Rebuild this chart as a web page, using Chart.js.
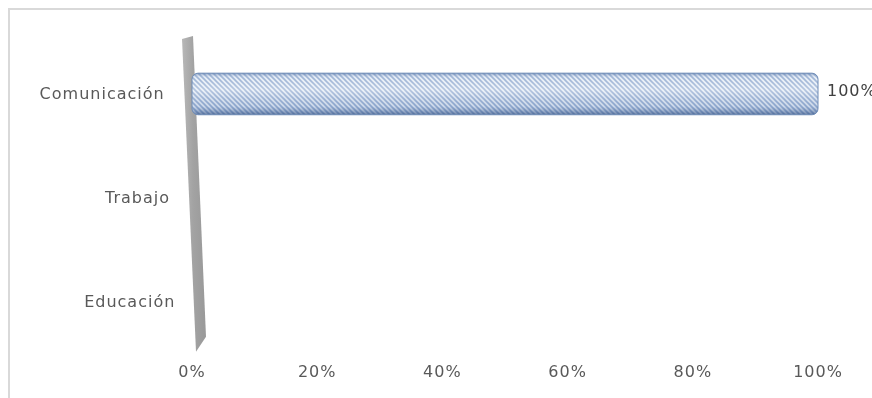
<!DOCTYPE html>
<html>
<head>
<meta charset="utf-8">
<script src="https://cdn.jsdelivr.net/npm/chart.js@4"></script>
<style>
  html, body { margin: 0; padding: 0; background: #fff; }
  #wrap { width: 872px; height: 398px; position: relative; }
</style>
</head>
<body>
<div id="wrap"><canvas id="usoChart"></canvas></div>
<script>
const categories = ['Comunicación', 'Trabajo', 'Educación'];
const values = [100, 0, 0];
const tickValues = [0, 20, 40, 60, 80, 100];

const textColor = '#595959';
const labelFont = '16px "DejaVu Sans"';

// diagonal hatch used as the bar fill
function makeHatch() {
    const tile = document.createElement('canvas');
    tile.width = 5;
    tile.height = 5;
    const t = tile.getContext('2d');
    t.fillStyle = '#e6edf6';
    t.fillRect(0, 0, 5, 5);
    t.strokeStyle = '#94add2';
    t.lineWidth = 1.6;
    t.beginPath();
    t.moveTo(-1, -1); t.lineTo(6, 6);
    t.moveTo(-1, 4); t.lineTo(1, 6);
    t.moveTo(4, -1); t.lineTo(6, 1);
    t.stroke();
    return t.createPattern(tile, 'repeat');
}

const framePlugin = {
    id: 'frame',
    beforeDraw(chart) {
        const ctx = chart.ctx;
        ctx.letterSpacing = '1px';
        ctx.save();
        ctx.strokeStyle = '#d9d9d9';
        ctx.lineWidth = 2;
        ctx.beginPath();
        ctx.moveTo(9, chart.height + 2);
        ctx.lineTo(9, 9);
        ctx.lineTo(chart.width + 2, 9);
        ctx.stroke();
        ctx.restore();
    },
    beforeDatasetsDraw(chart) {
        // slanted grey side wall of the 3D plot
        const ctx = chart.ctx;
        const x0 = chart.scales.x.getPixelForValue(0);
        const { top, bottom } = chart.chartArea;
        const g = ctx.createLinearGradient(x0 - 10, 0, x0 + 12, 0);
        g.addColorStop(0, '#b8b8b8');
        g.addColorStop(0.5, '#a3a3a3');
        g.addColorStop(1, '#9a9a9a');
        ctx.save();
        ctx.fillStyle = g;
        ctx.beginPath();
        ctx.moveTo(x0 - 10, top - 3);
        ctx.lineTo(x0 + 1, top - 6);
        ctx.lineTo(x0 + 14, bottom - 17);
        ctx.lineTo(x0 + 4, bottom - 2);
        ctx.closePath();
        ctx.fill();
        ctx.restore();
    },
    afterDatasetsDraw(chart) {
        const ctx = chart.ctx;
        const meta = chart.getDatasetMeta(0);
        const x0 = chart.scales.x.getPixelForValue(0);
        const { top, bottom } = chart.chartArea;

        meta.data.forEach((bar, i) => {
            const p = bar.getProps(['x', 'y', 'base', 'height'], true);
            if (values[i] > 0) {
                // cylinder shading over the hatch
                const y1 = p.y - p.height / 2;
                const y2 = p.y + p.height / 2;
                const g = ctx.createLinearGradient(0, y1, 0, y2);
                g.addColorStop(0, 'rgba(70,105,160,0.6)');
                g.addColorStop(0.12, 'rgba(255,255,255,0.1)');
                g.addColorStop(0.4, 'rgba(255,255,255,0.3)');
                g.addColorStop(0.8, 'rgba(100,130,180,0.2)');
                g.addColorStop(1, 'rgba(50,80,130,0.7)');
                ctx.save();
                ctx.fillStyle = g;
                ctx.beginPath();
                ctx.roundRect(p.base, y1, p.x - p.base, y2 - y1, 6);
                ctx.fill();
                ctx.strokeStyle = '#6f8cb6';
                ctx.lineWidth = 1;
                ctx.stroke();
                ctx.restore();

                ctx.save();
                ctx.font = labelFont;
                ctx.fillStyle = '#404040';
                ctx.textAlign = 'left';
                ctx.textBaseline = 'middle';
                ctx.fillText(values[i] + '%', p.x + 9, p.y - 2);
                ctx.restore();
            }

            // category labels follow the slant of the wall
            const frac = (p.y - top) / (bottom - top);
            ctx.save();
            ctx.font = labelFont;
            ctx.fillStyle = textColor;
            ctx.textAlign = 'right';
            ctx.textBaseline = 'middle';
            ctx.fillText(categories[i], x0 - 30 + 16 * frac, p.y + 1);
            ctx.restore();
        });
    }
};

const ctx = document.getElementById('usoChart').getContext('2d');

new Chart(ctx, {
    type: 'bar',
    data: {
        labels: categories,
        datasets: [{
            data: values,
            backgroundColor: makeHatch(),
            borderWidth: 0,
            borderRadius: 6,
            borderSkipped: false,
            barPercentage: 0.4,
            categoryPercentage: 1
        }]
    },
    options: {
        indexAxis: 'y',
        responsive: true,
        maintainAspectRatio: false,
        animation: false,
        layout: { padding: { left: 192, right: 54, top: 42, bottom: 7 } },
        plugins: {
            legend: { display: false },
            tooltip: { enabled: false }
        },
        scales: {
            x: {
                min: 0,
                max: 100,
                afterBuildTicks: (scale) => {
                    scale.ticks = tickValues.map(v => ({ value: v }));
                },
                grid: { display: false, drawTicks: false },
                border: { display: false },
                ticks: {
                    padding: 9,
                    color: textColor,
                    font: { family: 'DejaVu Sans', size: 16 },
                    maxRotation: 0,
                    callback: (v) => v + '%'
                }
            },
            y: {
                display: false
            }
        }
    },
    plugins: [framePlugin]
});
</script>
</body>
</html>
